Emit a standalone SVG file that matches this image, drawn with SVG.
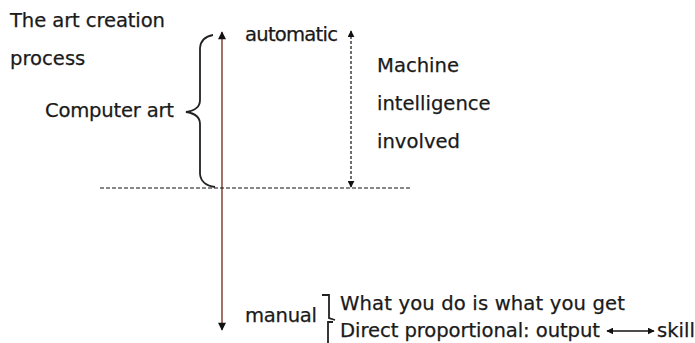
<svg xmlns="http://www.w3.org/2000/svg" width="695" height="343" viewBox="0 0 695 343">
<style>
text{font-family:"DejaVu Sans",Verdana,sans-serif;font-size:19.6px;fill:#1a1a1a;stroke:#1a1a1a;stroke-width:0.25}
.brace{fill:none;stroke:#222;stroke-width:1.8}
.main{stroke:#7a3828;stroke-width:1.4;fill:none}
.dash{stroke:#111;stroke-width:1.2;stroke-dasharray:4 2;fill:none}
.dot{stroke:#111;stroke-width:1.2;stroke-dasharray:3 2;fill:none}
.solid{stroke:#111;stroke-width:1.4;fill:none}
</style>
<defs>
<marker id="ah" viewBox="0 0 10 10" refX="9" refY="5" markerWidth="7" markerHeight="7" markerUnits="userSpaceOnUse" orient="auto-start-reverse">
<path d="M0,0 L10,5 L0,10 z" fill="#111"/>
</marker>
<marker id="ah2" viewBox="0 0 10 10" refX="9" refY="5" markerWidth="9" markerHeight="8" markerUnits="userSpaceOnUse" orient="auto-start-reverse">
<path d="M0,0 L10,5 L0,10 z" fill="#111"/>
</marker>
</defs>
<rect width="695" height="343" fill="#fff"/>
<g id="connectors">
<line class="main" x1="222" y1="32" x2="222" y2="330" marker-start="url(#ah2)" marker-end="url(#ah2)"/>
<line class="dash" x1="100" y1="188" x2="410" y2="188"/>
<line class="dot" x1="351" y1="31" x2="351" y2="187" marker-start="url(#ah)" marker-end="url(#ah)"/>
<line class="solid" x1="607" y1="331" x2="654" y2="331" marker-start="url(#ah)" marker-end="url(#ah)"/>
</g>
<g id="title">
<text x="10" y="27" textLength="155">The art creation</text>
<text x="10" y="65">process</text>
</g>
<g id="computer-art">
<path class="brace" d="M213,35 Q201,37 200,48 L200,100 Q200,110 186,112 Q200,114 200,124 L200,174 Q201,185 215,187"/>
<text x="45" y="117" textLength="129">Computer art</text>
</g>
<g id="automatic">
<text x="245" y="41" textLength="93">automatic</text>
</g>
<g id="machine">
<text x="377" y="72">Machine</text>
<text x="377" y="110">intelligence</text>
<text x="377" y="148">involved</text>
</g>
<g id="manual">
<text x="245" y="322" textLength="72">manual</text>
<path class="brace" d="M322,295 L329,295 L329,318 L335,320 M333,322 L328,322 L328,343" stroke-width="1.5"/>
<text x="340" y="310" textLength="285">What you do is what you get</text>
<text x="340" y="337" textLength="260">Direct proportional: output</text>
<text x="657" y="337">skill</text>
</g>
</svg>
